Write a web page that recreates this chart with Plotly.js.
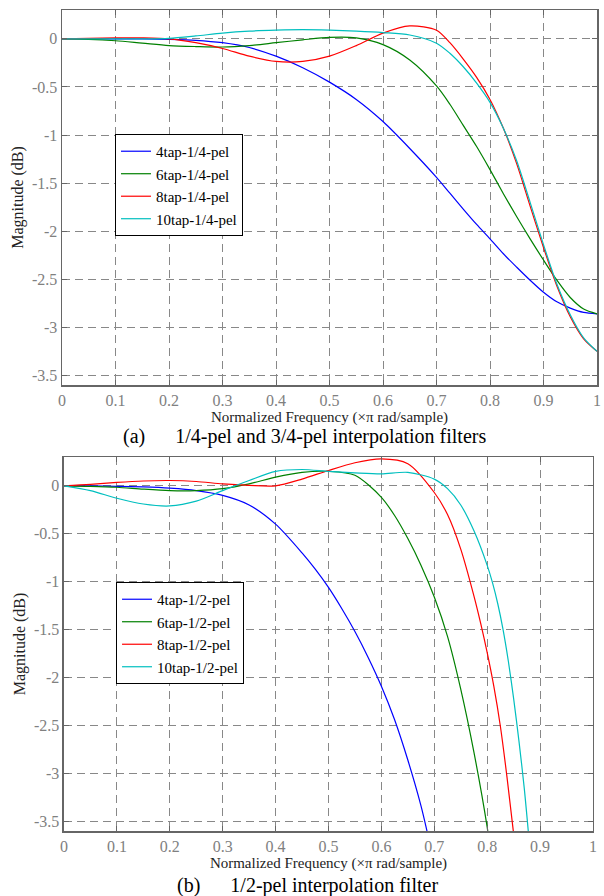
<!DOCTYPE html>
<html>
<head>
<meta charset="utf-8">
<script src="https://cdn.plot.ly/plotly-3.0.1.min.js"></script>
<style>html,body{margin:0;padding:0;background:#fff;}#chart{width:604px;height:896px;}</style>
</head>
<body>
<div id="chart"></div>
<script>
// ---------- Data: (a) 1/4-pel and 3/4-pel interpolation filters ----------
const freqQuarter = [0,0.05,0.1,0.15,0.2,0.25,0.3,0.35,0.4,0.45,0.5,0.55,0.6,0.65,0.7,0.725,0.75,0.775,0.8,0.825,0.85,0.875,0.9,0.925,0.95,0.975,1];
const mag4tapQuarter  = [0,0,0,0,-0.005,-0.015,-0.04,-0.09,-0.18,-0.30,-0.45,-0.63,-0.86,-1.14,-1.44,-1.605,-1.77,-1.93,-2.08,-2.235,-2.375,-2.51,-2.635,-2.735,-2.80,-2.845,-2.86];
const mag6tapQuarter  = [0,-0.005,-0.02,-0.045,-0.07,-0.08,-0.085,-0.07,-0.04,-0.01,0.015,0.01,-0.06,-0.22,-0.49,-0.68,-0.90,-1.12,-1.36,-1.61,-1.85,-2.08,-2.30,-2.51,-2.69,-2.81,-2.86];
const mag8tapQuarter  = [0,0.005,0.01,0.01,0,-0.04,-0.10,-0.18,-0.235,-0.235,-0.18,-0.07,0.06,0.135,0.09,-0.04,-0.21,-0.40,-0.63,-0.93,-1.30,-1.74,-2.17,-2.57,-2.89,-3.12,-3.25];
const mag10tapQuarter = [0,0,0,0,0.005,0.03,0.06,0.08,0.09,0.095,0.09,0.08,0.065,0.04,-0.045,-0.15,-0.29,-0.46,-0.66,-0.93,-1.27,-1.70,-2.14,-2.55,-2.87,-3.11,-3.25];

// ---------- Data: (b) 1/2-pel interpolation filter ----------
const freq4tapHalf = [0,0.05,0.1,0.15,0.2,0.25,0.3,0.35,0.4,0.45,0.475,0.5,0.525,0.55,0.575,0.6,0.625,0.65,0.675,0.687];
const mag4tapHalf  = [0,0,-0.005,-0.012,-0.025,-0.05,-0.10,-0.20,-0.40,-0.70,-0.87,-1.06,-1.28,-1.52,-1.79,-2.09,-2.44,-2.86,-3.34,-3.62];
const freq6tapHalf = [0,0.05,0.1,0.15,0.2,0.25,0.3,0.35,0.4,0.45,0.5,0.55,0.6,0.625,0.65,0.675,0.7,0.725,0.75,0.775,0.8,0.802];
const mag6tapHalf  = [0,-0.005,-0.015,-0.035,-0.05,-0.05,-0.03,0.02,0.09,0.14,0.15,0.11,-0.12,-0.31,-0.55,-0.83,-1.16,-1.57,-2.12,-2.78,-3.56,-3.64];
const freq8tapHalf = [0,0.05,0.1,0.15,0.2,0.25,0.3,0.35,0.4,0.45,0.5,0.55,0.6,0.65,0.7,0.725,0.75,0.775,0.7875,0.8,0.8125,0.825,0.8375,0.85];
const mag8tapHalf  = [0,0.015,0.035,0.05,0.055,0.045,0.02,0.005,0.0,0.07,0.16,0.24,0.28,0.23,-0.07,-0.30,-0.66,-1.15,-1.43,-1.74,-2.09,-2.51,-3.04,-3.63];
const freq10tapHalf = [0,0.05,0.1,0.15,0.2,0.25,0.3,0.35,0.4,0.45,0.5,0.55,0.6,0.65,0.7,0.725,0.75,0.775,0.8,0.81,0.82,0.83,0.84,0.85,0.86,0.87,0.878];
const mag10tapHalf  = [0,-0.05,-0.13,-0.19,-0.21,-0.16,-0.05,0.055,0.15,0.17,0.15,0.135,0.125,0.14,0.07,-0.03,-0.20,-0.47,-0.83,-1.01,-1.23,-1.50,-1.83,-2.22,-2.66,-3.15,-3.62];

// ---------- Labels ----------
const namesQuarter = ['4tap-1/4-pel','6tap-1/4-pel','8tap-1/4-pel','10tap-1/4-pel'];
const namesHalf = ['4tap-1/2-pel','6tap-1/2-pel','8tap-1/2-pel','10tap-1/2-pel'];
const xTickVals = [0,0.1,0.2,0.3,0.4,0.5,0.6,0.7,0.8,0.9,1];
const xTickText = ['0','0.1','0.2','0.3','0.4','0.5','0.6','0.7','0.8','0.9','1'];
const yTickVals = [0,-0.5,-1,-1.5,-2,-2.5,-3,-3.5];
const yTickText = ['0','-0.5','-1','-1.5','-2','-2.5','-3','-3.5'];
const xTitle = 'Normalized Frequency (×π rad/sample)';
const yTitle = 'Magnitude (dB)';
const captionA = '(a)\u00a0\u00a0\u00a0\u00a0\u00a0 1/4-pel and 3/4-pel interpolation filters';
const captionB = '(b)\u00a0\u00a0\u00a0\u00a0\u00a0 1/2-pel interpolation filter';
const colors = ['#0000ff','#008000','#ff0000','#00bfbf'];

const serif = 'Liberation Serif';

function line(x, y, name, color, xa, ya, lg) {
  return {x: x, y: y, name: name, type: 'scatter', mode: 'lines',
    line: {color: color, width: 1.2, shape: 'spline', smoothing: 0.8},
    xaxis: xa, yaxis: ya, legend: lg, hoverinfo: 'skip'};
}

const data = [
  line(freqQuarter, mag4tapQuarter, namesQuarter[0], colors[0], 'x', 'y', 'legend'),
  line(freqQuarter, mag6tapQuarter, namesQuarter[1], colors[1], 'x', 'y', 'legend'),
  line(freqQuarter, mag8tapQuarter, namesQuarter[2], colors[2], 'x', 'y', 'legend'),
  line(freqQuarter, mag10tapQuarter, namesQuarter[3], colors[3], 'x', 'y', 'legend'),
  line(freq4tapHalf, mag4tapHalf, namesHalf[0], colors[0], 'x2', 'y2', 'legend2'),
  line(freq6tapHalf, mag6tapHalf, namesHalf[1], colors[1], 'x2', 'y2', 'legend2'),
  line(freq8tapHalf, mag8tapHalf, namesHalf[2], colors[2], 'x2', 'y2', 'legend2'),
  line(freq10tapHalf, mag10tapHalf, namesHalf[3], colors[3], 'x2', 'y2', 'legend2')
];

function xAxis(domain, anchor) {
  return {domain: domain, anchor: anchor, range: [0, 1], tickmode: 'array',
    tickvals: xTickVals, ticktext: xTickText, ticks: 'inside', ticklen: 5,
    tickcolor: '#666', showline: true, linecolor: '#666', linewidth: 1.5,
    mirror: 'ticks', showgrid: true, gridcolor: '#888', gridwidth: 1,
    griddash: '8px,5px', zeroline: false,
    tickfont: {family: serif, size: 16, color: '#808080'},
    title: {text: xTitle, font: {family: serif, size: 15, color: '#222'}, standoff: 0}};
}
function yAxis(domain, anchor) {
  return {domain: domain, anchor: anchor, range: [-3.6, 0.3], tickmode: 'array',
    tickvals: yTickVals, ticktext: yTickText, ticks: 'inside', ticklen: 5,
    tickcolor: '#666', showline: true, linecolor: '#666', linewidth: 1.5,
    mirror: 'ticks', showgrid: true, gridcolor: '#888', gridwidth: 1,
    griddash: '8px,5px', zeroline: false,
    tickfont: {family: serif, size: 16, color: '#808080'},
    title: {text: yTitle, font: {family: serif, size: 16, color: '#222'}, standoff: 4}};
}
function legendBox(x, y) {
  return {x: x, y: y, xanchor: 'left', yanchor: 'top', xref: 'paper', yref: 'paper',
    bgcolor: '#ffffff', bordercolor: '#000', borderwidth: 1,
    font: {family: serif, size: 15, color: '#000'}, tracegroupgap: 0, itemwidth: 30};
}

const layout = {
  width: 604, height: 896,
  margin: {l: 62, r: 7, t: 10, b: 65},
  paper_bgcolor: '#fff', plot_bgcolor: '#fff',
  showlegend: true,
  xaxis: xAxis([0, 1], 'y'),
  yaxis: yAxis([0.5432, 1], 'x'),
  xaxis2: xAxis([0.0037, 0.9925], 'y2'),
  yaxis2: yAxis([0, 0.4555], 'x2'),
  legend: legendBox(0.099, 0.849),
  legend2: legendBox(0.101, 0.3033),
  annotations: [
    {text: captionA, xref: 'paper', yref: 'paper', x: 0.454, y: 0.4811,
     xanchor: 'center', yanchor: 'middle', showarrow: false,
     font: {family: serif, size: 20, color: '#000'}},
    {text: captionB, xref: 'paper', yref: 'paper', x: 0.458, y: -0.0658,
     xanchor: 'center', yanchor: 'middle', showarrow: false,
     font: {family: serif, size: 20, color: '#000'}}
  ]
};

Plotly.newPlot('chart', data, layout, {displayModeBar: false, staticPlot: true});
</script>
</body>
</html>
